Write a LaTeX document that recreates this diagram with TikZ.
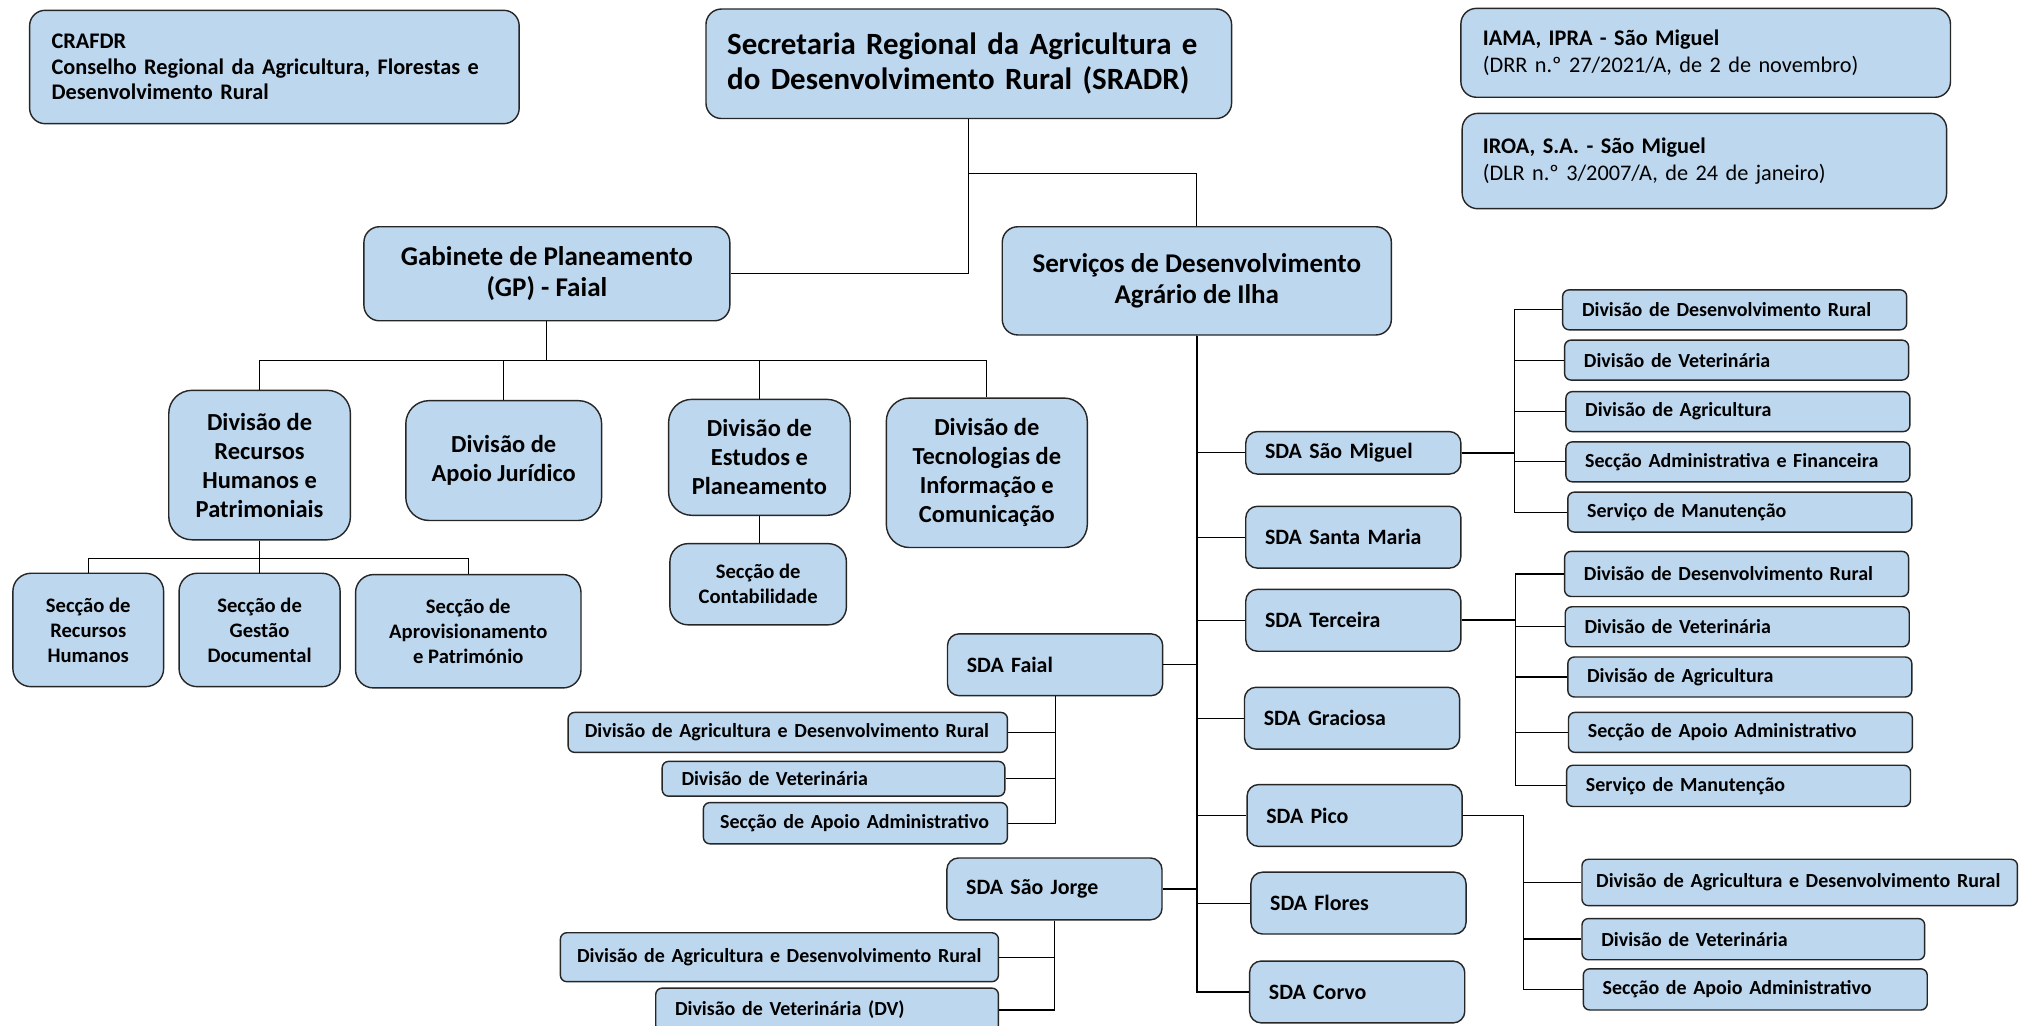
\documentclass[tikz,border=0pt]{standalone}
\usepackage{fontspec}
\setmainfont{Carlito}
\usetikzlibrary{positioning}
\definecolor{boxblue}{RGB}{189,215,238}
\tikzset{
  unit/.style={draw=black!85, fill=boxblue, line width=1.1pt, inner sep=0pt},
  conn/.style={line width=0.9pt},
  trunk/.style={line width=1.7pt},
  bigf/.style={font=\fontsize{24}{27}\selectfont\bfseries},
  midf/.style={font=\fontsize{21}{24.5}\selectfont\bfseries},
  divf/.style={font=\fontsize{19}{22.5}\selectfont\bfseries},
  secf/.style={font=\fontsize{16}{19.5}\selectfont\bfseries},
  notef/.style={font=\fontsize{17.3}{21}\selectfont\bfseries},
  sdaf/.style={font=\fontsize{17}{20}\selectfont\bfseries},
  smallf/.style={font=\fontsize{15.5}{18}\selectfont\bfseries},
  topbox/.style={unit, rounded corners=12pt, align=left},
  divbox/.style={unit, divf, rounded corners=18pt, align=center},
  secbox/.style={unit, secf, rounded corners=14pt, align=center},
  sdabox/.style={unit, sdaf, rounded corners=9pt, minimum height=48pt, inner xsep=15pt, text width=137pt, align=left},
  subbox/.style={unit, smallf, rounded corners=5pt, inner xsep=15pt, align=left},
}
\begin{document}
\begin{tikzpicture}[x=1pt,y=-1pt]
  \useasboundingbox (0,0) rectangle (1568,796);
  \fill[white] (0,0) rectangle (1568,796);

  % top row
  \node[topbox, notef, font=\fontsize{17.3}{20}\selectfont\bfseries, inner xsep=17pt, text width=346pt, minimum height=88pt] (crafdr) at (213,52)
    {CRAFDR\\Conselho Regional da Agricultura, Florestas e\\Desenvolvimento Rural};
  \node[topbox, bigf, inner xsep=16.5pt, text width=375pt, minimum height=85pt] (sradr) at (752,49.5)
    {Secretaria Regional da Agricultura e\\do Desenvolvimento Rural (SRADR)};
  \node[topbox, notef, inner xsep=17pt, text width=346pt, minimum height=69pt] (iama) at (1324,41)
    {IAMA, IPRA - São Miguel\\\mdseries (DRR n.º 27/2021/A, de 2 de novembro)};
  \node[topbox, notef, inner xsep=16pt, text width=344pt, minimum height=74pt] (iroa) at (1323,125)
    {IROA, S.A. - São Miguel\\\mdseries (DLR n.º 3/2007/A, de 24 de janeiro)};

  % second level
  \node[unit, midf, rounded corners=12pt, align=center, minimum width=284pt, minimum height=73pt] (gp) at (424.5,212.5)
    {Gabinete de Planeamento\\(GP) - Faial};
  \node[unit, midf, rounded corners=12pt, align=center, minimum width=302pt, minimum height=84pt] (sdai) at (929,218)
    {Serviços de Desenvolvimento\\Agrário de Ilha};

  % divisions of GP
  \node[divbox, minimum width=141pt, minimum height=116pt] (drhp) at (201.5,361)
    {Divisão de\\Recursos\\Humanos e\\Patrimoniais};
  \node[divbox, minimum width=152pt, minimum height=93pt] (daj) at (391,357.5)
    {Divisão de\\Apoio Jurídico};
  \node[divbox, minimum width=141pt, minimum height=90pt] (dep) at (589.5,355)
    {Divisão de\\Estudos e\\Planeamento};
  \node[divbox, minimum width=156pt, minimum height=116pt] (dtic) at (766,367)
    {Divisão de\\Tecnologias de\\Informação e\\Comunicação};

  \node[secbox, minimum width=117pt, minimum height=88pt] (srh) at (68.5,489)
    {Secção de\\Recursos\\Humanos};
  \node[secbox, minimum width=125pt, minimum height=88pt] (sgd) at (201.5,489)
    {Secção de\\Gestão\\Documental};
  \node[secbox, minimum width=175pt, minimum height=88pt] (sap) at (363.5,490)
    {Secção de\\Aprovisionamento\\e Património};
  \node[secbox, minimum width=137pt, minimum height=63pt] (sc) at (588.5,453.5)
    {Secção de\\Contabilidade};

  % island services
  \node[sdabox, minimum height=33pt] (sm) at (1050.5,351.5) {SDA São Miguel};
  \node[sdabox] (smaria) at (1050.5,417) {SDA Santa Maria};
  \node[sdabox] (ster) at (1050.5,481.5) {SDA Terceira};
  \node[sdabox] (sgra) at (1049.5,557.5) {SDA Graciosa};
  \node[sdabox] (spico) at (1051.5,633) {SDA Pico};
  \node[sdabox] (sflo) at (1054.5,701) {SDA Flores};
  \node[sdabox] (scor) at (1053.5,770) {SDA Corvo};
  \node[sdabox] (sfai) at (819,516) {SDA Faial};
  \node[sdabox] (sjor) at (818.5,690) {SDA São Jorge};

  % SDA Faial
  \node[subbox, inner xsep=13pt, text width=315pt, minimum height=31pt] (f1) at (611.5,568.5)
    {Divisão de Agricultura e Desenvolvimento Rural};
  \node[subbox, text width=236pt, minimum height=27pt] (f2) at (647,604.5) {Divisão de Veterinária};
  \node[subbox, inner xsep=13pt, text width=210pt, minimum height=32pt] (f3) at (664,639) {Secção de Apoio Administrativo};

  % SDA Sao Jorge
  \node[subbox, inner xsep=13pt, text width=314pt, minimum height=38pt] (j1) at (605,743)
    {Divisão de Agricultura e Desenvolvimento Rural};
  \node[subbox, text width=236pt, minimum height=34pt] (j2) at (642,784) {Divisão de Veterinária (DV)};

  % SDA Sao Miguel
  \node[subbox, text width=237pt, minimum height=31pt] (m1) at (1346.5,240.5) {Divisão de Desenvolvimento Rural};
  \node[subbox, text width=237pt, minimum height=31pt] (m2) at (1348,279.5) {Divisão de Veterinária};
  \node[subbox, text width=237pt, minimum height=31pt] (m3) at (1349,319.5) {Divisão de Agricultura};
  \node[subbox, text width=237pt, minimum height=31pt] (m4) at (1349,358.5) {Secção Administrativa e Financeira};
  \node[subbox, text width=237pt, minimum height=31pt] (m5) at (1350.5,397.5) {Serviço de Manutenção};

  % SDA Terceira
  \node[subbox, text width=237pt, minimum height=35pt] (t1) at (1348,445.5) {Divisão de Desenvolvimento Rural};
  \node[subbox, text width=237pt, minimum height=31pt] (t2) at (1348.5,486.5) {Divisão de Veterinária};
  \node[subbox, text width=237pt, minimum height=31pt] (t3) at (1350.5,525.5) {Divisão de Agricultura};
  \node[subbox, text width=237pt, minimum height=31pt] (t4) at (1351,568.5) {Secção de Apoio Administrativo};
  \node[subbox, text width=237pt, minimum height=32pt] (t5) at (1349.5,610) {Serviço de Manutenção};

  % SDA Pico
  \node[subbox, inner xsep=11pt, text width=316pt, minimum height=36pt] (p1) at (1397,685)
    {Divisão de Agricultura e Desenvolvimento Rural};
  \node[subbox, text width=236pt, minimum height=32pt] (p2) at (1361,729) {Divisão de Veterinária};
  \node[subbox, text width=237pt, minimum height=32pt] (p3) at (1362.5,768) {Secção de Apoio Administrativo};

  % connectors
  \draw[conn] (sradr.south) |- (gp.east);
  \draw[conn] (sradr.south) ++(0,42) -| (sdai.north);
  \foreach \d in {drhp,daj,dep,dtic}
    \draw[conn] (gp.south) -- ++(0,30) -| (\d.north);
  \foreach \s in {srh,sgd,sap}
    \draw[conn] (drhp.south) -- ++(0,14) -| (\s.north);
  \draw[conn] (dep.south) -- (dep.south |- sc.north);

  \draw[trunk] (sdai.south) -- (sdai.south |- scor.west);
  \foreach \s in {sm,smaria,ster,sgra,spico,sflo,scor}
    \draw[conn] (sdai.south) |- (\s.west);
  \foreach \s in {sfai,sjor}
    \draw[conn] (sdai.south) |- (\s.east);

  \foreach \c in {f1,f2,f3}
    \draw[conn] (sfai.south) |- (\c.east);
  \foreach \c in {j1,j2}
    \draw[conn] (sjor.south) |- (\c.east);

  \draw[trunk] (sm.east) -- ++(41,0);
  \foreach \c in {m1,m2,m3,m4,m5}
    \draw[conn] (sm.east) -- ++(41,0) |- (\c.west);
  \draw[trunk] (ster.east) -- ++(42,0);
  \foreach \c in {t1,t2,t3,t4,t5}
    \draw[conn] (ster.east) -- ++(42,0) |- (\c.west);
  \foreach \c in {p1,p2,p3}
    \draw[conn, line width=1.3pt] (spico.east) -- ++(47,0) |- (\c.west);
\end{tikzpicture}
\end{document}
